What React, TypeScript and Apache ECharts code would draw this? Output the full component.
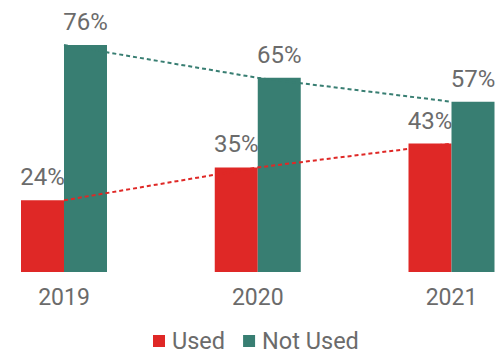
import React, { useEffect, useRef } from "react";
import * as echarts from "echarts";

const categories = ["2019", "2020", "2021"];
const usedValues = [24, 35, 43];
const notUsedValues = [76, 65, 57];
const seriesNames = ["Used", "Not Used"];

const RED = "#df2826";
const TEAL = "#387e72";
const GRAY = "#6b6b6b";
const FONT = "Roboto";
const WEIGHT = 400;

export default function App() {
  const ref = useRef<HTMLDivElement>(null);
  useEffect(() => {
    if (!ref.current) return;
    const chart = echarts.init(ref.current, null, { renderer: "svg" });
    const label = {
      show: true,
      position: "top",
      distance: 11,
      formatter: "{c}%",
      color: GRAY,
      fontSize: 24,
      fontWeight: WEIGHT,
      fontFamily: FONT,
    };
    chart.setOption({
      animation: false,
      textStyle: { fontFamily: FONT },
      grid: { left: 64, right: 44.5, top: 45, bottom: 82, containLabel: false },
      legend: {
        data: seriesNames,
        left: 148,
        top: 324,
        icon: "rect",
        itemWidth: 12,
        itemHeight: 12,
        itemGap: 18,
        textStyle: {
          color: GRAY,
          fontSize: 23.5,
          fontWeight: WEIGHT,
          fontFamily: FONT,
          lineHeight: 24,
          padding: [0, 0, 0, 2],
        },
      },
      xAxis: {
        type: "category",
        data: categories,
        boundaryGap: false,
        axisLine: { show: false },
        axisTick: { show: false },
        axisLabel: { color: GRAY, fontSize: 23, fontWeight: WEIGHT, fontFamily: FONT, margin: 14 },
      },
      yAxis: {
        type: "value",
        min: 0,
        max: 76,
        show: false,
        splitLine: { show: false },
      },
      series: [
        {
          name: seriesNames[0],
          type: "bar",
          data: usedValues,
          barWidth: 43,
          barGap: "0%",
          z: 2,
          itemStyle: { color: RED },
          label,
        },
        {
          name: seriesNames[1],
          type: "bar",
          data: notUsedValues,
          barWidth: 43,
          barGap: "0%",
          z: 2,
          itemStyle: { color: TEAL },
          label,
        },
        {
          name: "Used trend",
          type: "line",
          data: usedValues,
          symbol: "none",
          z: 3,
          lineStyle: { color: RED, width: 2, type: [4, 3] },
        },
        {
          name: "Not Used trend",
          type: "line",
          data: notUsedValues,
          symbol: "none",
          z: 3,
          lineStyle: { color: TEAL, width: 2, type: [4, 3] },
        },
      ],
    });
    return () => chart.dispose();
  }, []);
  return <div ref={ref} style={{ width: 496, height: 354, position: "absolute", left: 0, top: 0 }} />;
}
